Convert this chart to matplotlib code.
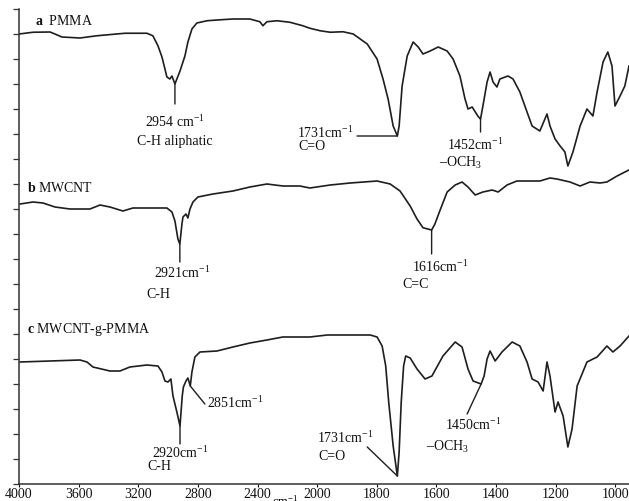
import numpy as np
import matplotlib
matplotlib.use("Agg")
import matplotlib.pyplot as plt

plt.rcParams["font.family"] = ["Liberation Serif", "DejaVu Serif"]
plt.rcParams["mathtext.fontset"] = "custom"
plt.rcParams["mathtext.rm"] = "Liberation Serif"
plt.rcParams["mathtext.it"] = "Liberation Serif:italic"
plt.rcParams["mathtext.bf"] = "Liberation Serif:bold"

# ---- FTIR spectra (wavenumber in cm-1, offset transmittance in tick units) ----
wn_pmma = [4000, 3906, 3792, 3759, 3712, 3591, 3477, 3289, 3142, 3102, 3068, 3041,
           3021, 3008, 2988, 2974, 2954, 2941, 2920, 2887, 2867, 2840, 2807, 2739,
           2672, 2565, 2451, 2384, 2364, 2337, 2270, 2183, 2096, 2049, 1990, 1956,
           1913, 1879, 1832, 1799, 1779, 1762, 1745, 1731, 1725, 1715, 1698, 1678,
           1661, 1645, 1621, 1594, 1564, 1544, 1521, 1504, 1494, 1480, 1460, 1452,
           1444, 1430, 1420, 1410, 1397, 1387, 1360, 1343, 1320, 1296, 1279, 1253,
           1229, 1219, 1202, 1185, 1169, 1159, 1142, 1118, 1095, 1075, 1061, 1041,
           1025, 1011, 1001, 984, 968, 954]
t_pmma = [18.0, 18.07, 18.08, 18.0, 17.88, 17.84, 17.93, 18.03, 18.03, 17.93, 17.53,
          17.08, 16.6, 16.28, 16.2, 16.32, 16.0, 16.2, 16.52, 17.12, 17.68, 18.2,
          18.44, 18.53, 18.56, 18.6, 18.6, 18.49, 18.33, 18.49, 18.53, 18.47, 18.33,
          18.23, 18.13, 18.07, 18.09, 18.0, 17.6, 17.0, 16.2, 15.4, 14.32, 13.92,
          14.32, 15.92, 17.12, 17.68, 17.48, 17.2, 17.32, 17.48, 17.32, 17.0, 16.32,
          15.4, 15.0, 15.08, 14.7, 14.6, 15.12, 16.08, 16.48, 16.08, 15.88, 16.2,
          16.32, 16.2, 15.68, 14.88, 14.32, 14.12, 14.8, 14.32, 13.8, 13.52, 13.28,
          12.72, 13.28, 14.32, 15.0, 14.72, 15.68, 16.88, 17.28, 16.72, 15.12, 15.52,
          15.92, 16.72]

wn_mwcnt = [3993, 3906, 3839, 3759, 3658, 3524, 3457, 3390, 3303, 3236, 3008, 2974,
            2954, 2934, 2921, 2907, 2900, 2880, 2867, 2853, 2833, 2800, 2699, 2565,
            2451, 2337, 2230, 2116, 2049, 1956, 1889, 1799, 1755, 1722, 1688, 1665,
            1645, 1616, 1605, 1590, 1564, 1537, 1514, 1494, 1470, 1444, 1413, 1393,
            1363, 1330, 1253, 1219, 1196, 1152, 1118, 1085, 1051, 1028, 994, 961, 954]
t_mwcnt = [11.2, 11.28, 11.24, 11.08, 11.0, 11.0, 11.16, 11.08, 10.92, 11.04, 11.04,
           10.88, 10.52, 9.8, 9.6, 10.4, 10.68, 10.8, 10.64, 11.0, 11.28, 11.48, 11.6,
           11.72, 11.88, 12.0, 11.92, 11.92, 11.84, 11.96, 12.04, 12.12, 12.0, 11.72,
           11.12, 10.6, 10.25, 10.16, 10.4, 10.88, 11.68, 11.96, 12.08, 11.88, 11.56,
           11.68, 11.76, 11.68, 11.96, 12.12, 12.12, 12.24, 12.2, 12.08, 11.92, 12.08,
           12.04, 12.08, 12.32, 12.52, 12.56]

wn_graft = [3993, 3792, 3591, 3544, 3504, 3390, 3323, 3256, 3142, 3068, 3041, 3021,
            3001, 2981, 2967, 2941, 2920, 2905, 2897, 2880, 2867, 2851, 2840, 2820,
            2786, 2672, 2565, 2451, 2337, 2230, 2116, 2049, 1966, 1822, 1799, 1782,
            1770, 1760, 1745, 1731, 1725, 1718, 1710, 1703, 1688, 1665, 1638, 1615,
            1578, 1537, 1514, 1494, 1477, 1450, 1440, 1430, 1420, 1403, 1380, 1346,
            1320, 1296, 1279, 1259, 1242, 1229, 1219, 1202, 1192, 1175, 1159, 1145,
            1128, 1095, 1061, 1028, 1008, 984, 954]
t_graft = [4.88, 4.92, 4.96, 4.88, 4.68, 4.52, 4.52, 4.68, 4.76, 4.72, 4.48, 4.12,
           4.08, 4.2, 3.52, 2.88, 2.32, 3.52, 3.88, 4.12, 4.24, 3.92, 4.48, 5.08, 5.28,
           5.32, 5.48, 5.64, 5.76, 5.88, 5.88, 5.88, 5.96, 5.96, 5.88, 5.52, 4.72,
           3.28, 1.52, 0.32, 1.28, 3.28, 4.72, 5.12, 5.04, 4.6, 4.2, 4.32, 5.12, 5.68,
           5.48, 4.6, 4.12, 4.0, 4.32, 5.0, 5.32, 4.92, 5.28, 5.68, 5.52, 4.88, 4.2,
           4.08, 3.72, 4.88, 4.32, 2.88, 3.28, 2.72, 1.48, 2.2, 3.92, 4.88, 5.08, 5.52,
           5.28, 5.52, 5.92]

x_ticks = [4000, 3600, 3200, 2800, 2400, 2000, 1800, 1600, 1400, 1200, 1000]


# Wavenumber axis: the region above 2000 cm-1 is drawn at half scale
def fwd(x):
    x = np.asarray(x, dtype=float)
    return np.where(x >= 2000, 2000 + (x - 2000) / 2.0, x)


def inv(u):
    u = np.asarray(u, dtype=float)
    return np.where(u >= 2000, 2000 + (u - 2000) * 2.0, u)


fig = plt.figure(figsize=(6.29, 5.02), dpi=100)
ax = fig.add_axes([19 / 629, 17 / 502, 610 / 629, 475 / 502])
ax.set_xscale("function", functions=(fwd, inv))
ax.set_xlim(4000, 954)
ax.set_ylim(0, 19)

lc = "#1e1e1e"
for wn, t in ((wn_pmma, t_pmma), (wn_mwcnt, t_mwcnt), (wn_graft, t_graft)):
    ax.plot(wn, t, color=lc, lw=1.2, solid_joinstyle="round")

for s in ("top", "right"):
    ax.spines[s].set_visible(False)
for s in ("left", "bottom"):
    ax.spines[s].set_linewidth(1.1)
    ax.spines[s].set_color("#333333")

ax.set_xticks(x_ticks)
ax.set_xticklabels([str(v) for v in x_ticks])
ax.xaxis.set_minor_locator(matplotlib.ticker.NullLocator())
ax.tick_params(axis="x", direction="out", length=2, width=0.8, pad=0.5,
               labelsize=10, colors="#111111")
ax.set_yticks(np.arange(0, 20, 1))
ax.set_yticklabels([])
ax.tick_params(axis="y", direction="out", length=4, width=0.9, colors="#333333")

ax.text(2304, -0.36, r"cm$^{\mathregular{-1}}$", fontsize=9, ha="left", va="top",
        clip_on=False)

fs = 10
tc = "#111111"
line_kw = dict(arrowprops=dict(arrowstyle="-", color=lc, lw=1.0,
                               shrinkA=0, shrinkB=0))
cm = r"cm$^{\mathregular{-1}}$"


def label(x, y, s, ha="center"):
    ax.text(x, y, s, fontsize=fs, ha=ha, va="center", color=tc)


# panel titles
label(3893, 18.56, r"$\mathbf{a}$  PMMA", ha="left")
label(3946, 11.88, r"$\mathbf{b}$ MWCNT", ha="left")
label(3946, 6.2, r"$\mathbf{c}$ MWCNT-g-PMMA", ha="left")

# a: PMMA bands
ax.annotate("", xy=(2954, 16.0), xytext=(2954, 15.2), **line_kw)
label(2954, 14.52, "2954 " + cm)
label(2954, 13.76, "C-H aliphatic")

ax.annotate("", xy=(1731, 13.92), xytext=(1866, 13.92), **line_kw)
label(2136, 14.08, "1731" + cm, ha="left")
label(2129, 13.52, "C=O", ha="left")

ax.annotate("", xy=(1452, 14.6), xytext=(1452, 14.08), **line_kw)
label(1470, 13.6, "1452" + cm)
label(1521, 12.88, r"–OCH$_{\mathregular{3}}$")

# b: MWCNT bands
ax.annotate("", xy=(2921, 9.6), xytext=(2921, 8.88), **line_kw)
label(2907, 8.48, "2921" + cm)
label(3068, 7.6, "C-H")

ax.annotate("", xy=(1616, 10.16), xytext=(1616, 9.2), **line_kw)
label(1588, 8.72, "1616" + cm)
label(1671, 8.04, "C=C")

# c: MWCNT-g-PMMA bands
ax.annotate("", xy=(2920, 2.32), xytext=(2920, 1.6), **line_kw)
label(2920, 1.28, "2920" + cm)
label(3055, 0.72, "C-H")

ax.annotate("", xy=(2851, 3.92), xytext=(2753, 3.2), **line_kw)
label(2739, 3.28, "2851" + cm, ha="left")

ax.annotate("", xy=(1731, 0.32), xytext=(1832, 1.48), **line_kw)
label(1904, 1.88, "1731" + cm)
label(1950, 1.12, "C=O")

ax.annotate("", xy=(1450, 4.0), xytext=(1497, 2.8), **line_kw)
label(1477, 2.4, "1450" + cm)
label(1564, 1.52, r"–OCH$_{\mathregular{3}}$")

fig.savefig("out.png", dpi=100)
